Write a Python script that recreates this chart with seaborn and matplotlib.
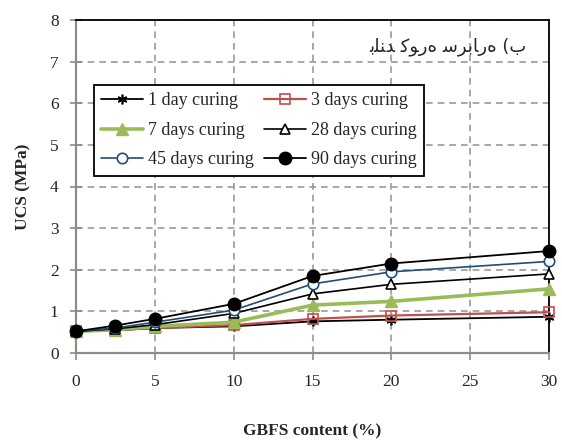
import numpy as np
import pandas as pd
import matplotlib
matplotlib.use("Agg")
import matplotlib.pyplot as plt
import seaborn as sns

# GBFS content (%) and unconfined compressive strength (MPa) per curing age
gbfs = [0, 2.5, 5, 10, 15, 20, 30]
ucs_1d = [0.52, 0.54, 0.60, 0.64, 0.76, 0.80, 0.87]
ucs_3d = [0.52, 0.55, 0.60, 0.67, 0.82, 0.90, 0.98]
ucs_7d = [0.52, 0.56, 0.64, 0.74, 1.15, 1.24, 1.54]
ucs_28d = [0.52, 0.58, 0.68, 0.95, 1.42, 1.65, 1.90]
ucs_45d = [0.52, 0.60, 0.74, 1.03, 1.66, 1.95, 2.20]
ucs_90d = [0.52, 0.66, 0.82, 1.18, 1.85, 2.15, 2.45]

series_names = ["1 day curing", "3 days curing", "7 days curing",
                "28 days curing", "45 days curing", "90 days curing"]
x_ticks = [0, 5, 10, 15, 20, 25, 30]
y_ticks = [0, 1, 2, 3, 4, 5, 6, 7, 8]

# panel caption in pre-joined Arabic letter forms (بلند کوره سرباره (ب)
panel_title = ("\uFE91\uFEE0\uFEE8\uFEAA \uFB90\uFEEE\uFEAD\uFEE9 "
               "\uFEB3\uFEAE\uFE91\uFE8E\uFEAD\uFEE9 (\uFE8F")

sns.set_style("white")
plt.rcParams["font.family"] = ["Liberation Serif", "DejaVu Serif"]

df = pd.DataFrame({"gbfs": gbfs * 6,
                   "ucs": ucs_1d + ucs_3d + ucs_7d + ucs_28d + ucs_45d + ucs_90d,
                   "series": np.repeat(series_names, len(gbfs))})

styles = {
    "1 day curing": dict(color="black", lw=1.3, marker=(6, 2, 0), ms=7,
                         mfc="black", mec="black", mew=1.2),
    "3 days curing": dict(color="#C0504D", lw=1.6, marker="s", ms=7.5,
                          mfc="none", mec="#C0504D", mew=1.2),
    "7 days curing": dict(color="#9BBB59", lw=2.6, marker="^", ms=8,
                          mfc="#9BBB59", mec="#9BBB59", mew=1.0),
    "28 days curing": dict(color="black", lw=1.2, marker="^", ms=7.5,
                           mfc="white", mec="black", mew=1.2),
    "45 days curing": dict(color="#1F4E79", lw=1.2, marker="o", ms=7.5,
                           mfc="white", mec="#1F4E79", mew=1.2),
    "90 days curing": dict(color="black", lw=1.3, marker="o", ms=9,
                           mfc="black", mec="black", mew=1.0),
}

fig = plt.figure(figsize=(5.62, 4.41), dpi=100)
ax = fig.add_axes([76 / 562, 1 - 353 / 441, 473 / 562, 333 / 441])

for name in series_names:
    st = styles[name]
    sub = df[df["series"] == name]
    sns.lineplot(data=sub, x="gbfs", y="ucs", ax=ax, label=name,
                 color=st["color"], linewidth=st["lw"], marker=st["marker"],
                 markersize=st["ms"], markerfacecolor=st["mfc"],
                 markeredgecolor=st["mec"], markeredgewidth=st["mew"],
                 clip_on=False, zorder=3)

ax.set_xlim(0, 30)
ax.set_ylim(0, 8)
ax.set_xticks(x_ticks)
ax.set_yticks(y_ticks)
ax.grid(True, color="#9a9a9a", linestyle=(0, (4, 3)), linewidth=1.2)
ax.set_axisbelow(True)

for side in ["left", "bottom"]:
    ax.spines[side].set_color("#8c8c8c")
    ax.spines[side].set_linewidth(1.6)
for side in ["top", "right"]:
    ax.spines[side].set_color("black")
    ax.spines[side].set_linewidth(1.3)
    ax.spines[side].set_visible(True)

ax.tick_params(axis="y", direction="inout", length=9, width=1.2,
               color="#8c8c8c", labelsize=12.5, pad=8, left=True)
ax.tick_params(axis="x", direction="out", length=5, width=1.2,
               color="#8c8c8c", labelsize=12.5, pad=10, bottom=True)

ax.set_xlabel("GBFS content (%)", fontsize=12.5, fontweight="bold")
ax.set_ylabel("UCS (MPa)", fontsize=12.5, fontweight="bold")
ax.xaxis.set_label_coords(0.5, -0.212)
ax.yaxis.set_label_coords(-0.095, 0.5)

ax.text(0.953, 0.919, panel_title, transform=ax.transAxes, ha="right",
        va="center", fontsize=13, family=["DejaVu Sans"])

# legend filled row by row: 1, 3 / 7, 28 / 45, 90
handles, labels = ax.get_legend_handles_labels()
order = [0, 2, 4, 1, 3, 5]
leg = ax.legend([handles[i] for i in order], [labels[i] for i in order],
                loc="upper left", bbox_to_anchor=(94 / 562, 1 - 85 / 441),
                bbox_transform=fig.transFigure, ncol=2, fontsize=13,
                frameon=True, fancybox=False, edgecolor="black",
                handlelength=2.3, handletextpad=0.3, columnspacing=0.55,
                labelspacing=0.7, borderpad=0.4, borderaxespad=0)
leg.get_frame().set_linewidth(1.3)
leg.get_frame().set_facecolor("white")
leg.get_frame().set_alpha(1)

fig.savefig("out.png", dpi=100)
